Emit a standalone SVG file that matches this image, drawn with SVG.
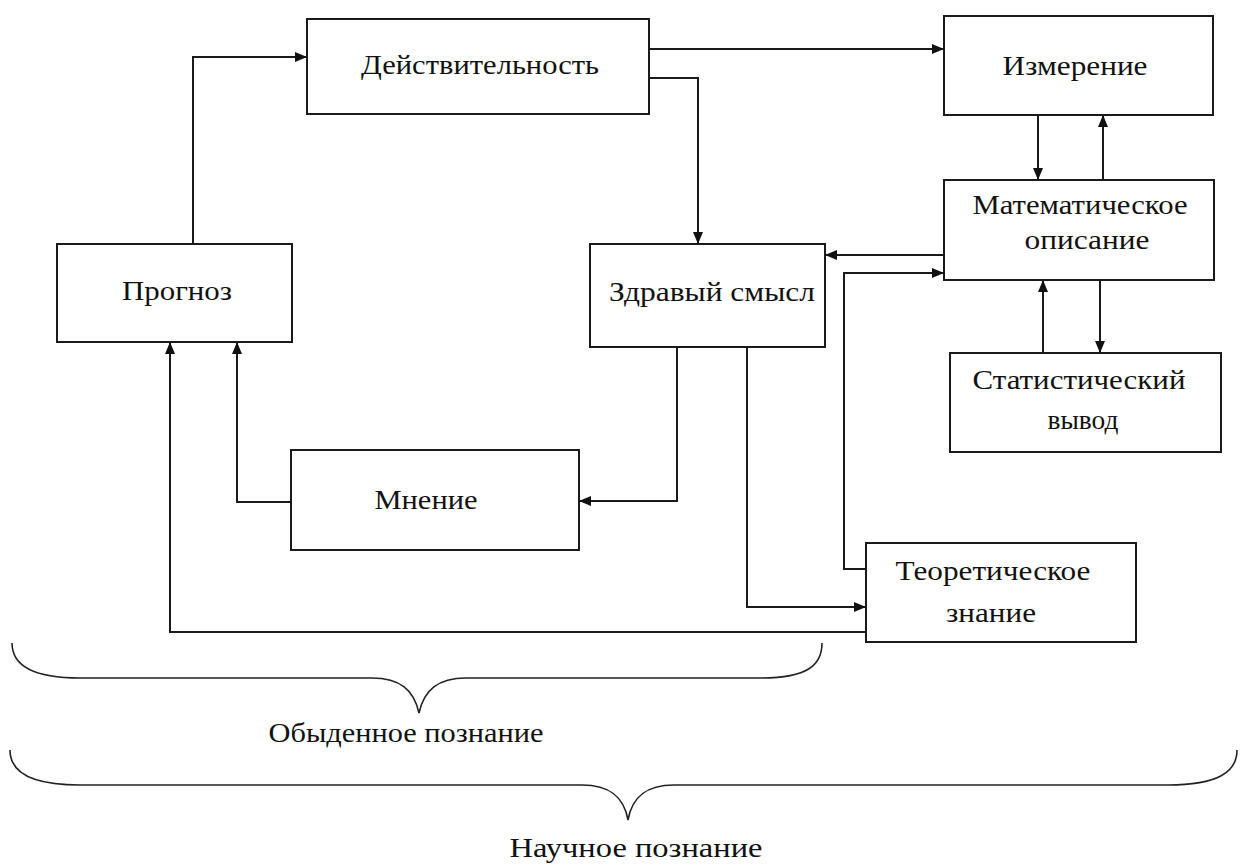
<svg xmlns="http://www.w3.org/2000/svg" width="1240" height="866" viewBox="0 0 1240 866">
  <style>
    .box { fill: #ffffff; stroke: #1a1a1a; stroke-width: 2; }
    .lbl { font-family: "Liberation Serif", "Times New Roman", serif; font-size: 27px; fill: #111111; text-anchor: middle; }
    .wire { fill: none; stroke: #1a1a1a; stroke-width: 2; }
    .brace { fill: none; stroke: #222222; stroke-width: 1.6; }
  </style>
  <defs>
    <marker id="arr" viewBox="0 0 12 10" refX="12" refY="5" markerWidth="12" markerHeight="10" markerUnits="userSpaceOnUse" orient="auto">
      <path d="M0,0 L12,5 L0,10 Z" fill="#111111"/>
    </marker>
  </defs>
  <rect width="1240" height="866" fill="#ffffff"/>

  <!-- connectors -->
  <g id="connectors">
    <path class="wire" d="M193,243 V57 H307" marker-end="url(#arr)"/>
    <path class="wire" d="M649,49 H944" marker-end="url(#arr)"/>
    <path class="wire" d="M649,78 H698 V244" marker-end="url(#arr)"/>
    <path class="wire" d="M1038,115 V180" marker-end="url(#arr)"/>
    <path class="wire" d="M1103,180 V115" marker-end="url(#arr)"/>
    <path class="wire" d="M944,255 H825" marker-end="url(#arr)"/>
    <path class="wire" d="M1043,353 V280" marker-end="url(#arr)"/>
    <path class="wire" d="M1100,280 V353" marker-end="url(#arr)"/>
    <path class="wire" d="M677,347 V501 H579" marker-end="url(#arr)"/>
    <path class="wire" d="M747,347 V607 H866" marker-end="url(#arr)"/>
    <path class="wire" d="M866,569 H844 V273 H944" marker-end="url(#arr)"/>
    <path class="wire" d="M291,502 H237 V342" marker-end="url(#arr)"/>
    <path class="wire" d="M866,632 H170 V342" marker-end="url(#arr)"/>
  </g>

  <g id="node-reality">
    <rect class="box" x="307" y="19" width="342" height="95"/>
    <text class="lbl" x="480" y="74" textLength="238" lengthAdjust="spacingAndGlyphs">Действительность</text>
  </g>
  <g id="node-measure">
    <rect class="box" x="944" y="16" width="269" height="99"/>
    <text class="lbl" x="1075" y="75" textLength="145" lengthAdjust="spacingAndGlyphs">Измерение</text>
  </g>
  <g id="node-math">
    <rect class="box" x="944" y="180" width="270" height="100"/>
    <text class="lbl" x="1080" y="214" textLength="215" lengthAdjust="spacingAndGlyphs">Математическое</text>
    <text class="lbl" x="1087" y="249" textLength="125" lengthAdjust="spacingAndGlyphs">описание</text>
  </g>
  <g id="node-stat">
    <rect class="box" x="950" y="353" width="271" height="99"/>
    <text class="lbl" x="1079" y="389" textLength="213" lengthAdjust="spacingAndGlyphs">Статистический</text>
    <text class="lbl" x="1083" y="429" textLength="71" lengthAdjust="spacingAndGlyphs">вывод</text>
  </g>
  <g id="node-common-sense">
    <rect class="box" x="590" y="244" width="235" height="103"/>
    <text class="lbl" x="712" y="301" textLength="206" lengthAdjust="spacingAndGlyphs">Здравый смысл</text>
  </g>
  <g id="node-forecast">
    <rect class="box" x="57" y="244" width="235" height="98"/>
    <text class="lbl" x="177" y="300" textLength="110" lengthAdjust="spacingAndGlyphs">Прогноз</text>
  </g>
  <g id="node-opinion">
    <rect class="box" x="291" y="450" width="288" height="100"/>
    <text class="lbl" x="426" y="509" textLength="103" lengthAdjust="spacingAndGlyphs">Мнение</text>
  </g>
  <g id="node-theory">
    <rect class="box" x="866" y="543" width="270" height="99"/>
    <text class="lbl" x="993" y="580" textLength="195" lengthAdjust="spacingAndGlyphs">Теоретическое</text>
    <text class="lbl" x="991" y="622" textLength="90" lengthAdjust="spacingAndGlyphs">знание</text>
  </g>

  <!-- braces -->
  <g id="brace-everyday">
    <path class="brace" d="M12,643 C12,665 32,678 80,678 L372,678 C400,678 414,690 419,713 C424,690 438,678 466,678 L760,678 C808,678 822,665 822,643"/>
    <text class="lbl" x="406" y="742" textLength="275" lengthAdjust="spacingAndGlyphs">Обыденное познание</text>
  </g>
  <g id="brace-science">
    <path class="brace" d="M10,750 C10,772 30,785 80,785 L582,785 C610,785 624,797 628,820 C632,797 646,785 674,785 L1168,785 C1218,785 1237,772 1237,750"/>
    <text class="lbl" x="636" y="857" textLength="253" lengthAdjust="spacingAndGlyphs">Научное познание</text>
  </g>
</svg>
